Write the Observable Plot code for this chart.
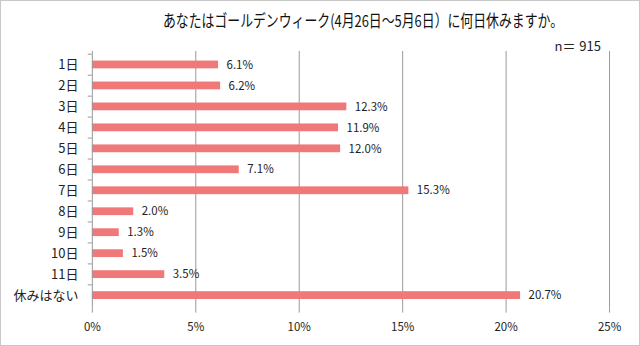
<!DOCTYPE html>
<html>
<head>
<meta charset="utf-8">
<script src="https://cdn.jsdelivr.net/npm/d3@7"></script>
<script src="https://cdn.jsdelivr.net/npm/@observablehq/plot@0.6"></script>
<style>
  html, body { margin: 0; padding: 0; background: #fff; }
  #wrap { position: relative; width: 640px; height: 346px; box-sizing: border-box; border: 1px solid #c8c8c8; overflow: hidden; font-family: "Noto Sans CJK JP", sans-serif; }
  #title { position: absolute; left: 42px; top: 7px; width: 640px; text-align: center; font-size: 16.5px; color: #111; transform: scaleX(0.78); transform-origin: 50% 0; white-space: nowrap; }
  #n { position: absolute; right: 38px; top: 35px; font-size: 13px; color: #222; word-spacing: 1px; }
  #chart { position: absolute; left: -1px; top: 39px; }
</style>
</head>
<body>
<div id="wrap">
  <div id="title">あなたはゴールデンウィーク(4月26日～5月6日）に何日休みますか。</div>
  <div id="n">n＝ 915</div>
  <div id="chart"></div>
</div>
<script>
const categories = ["1日", "2日", "3日", "4日", "5日", "6日", "7日", "8日", "9日", "10日", "11日", "休みはない"];
const values = [6.1, 6.2, 12.3, 11.9, 12.0, 7.1, 15.3, 2.0, 1.3, 1.5, 3.5, 20.7];
const xTicks = [0, 5, 10, 15, 20, 25];

const data = categories.map((c, i) => ({category: c, value: values[i]}));

const H = 307, MT = 11, MB = 38;
const band = (H - MT - MB) / categories.length;

const chart = Plot.plot({
  width: 640,
  height: H,
  marginLeft: 92,
  marginRight: 30,
  marginTop: MT,
  marginBottom: MB,
  style: {fontFamily: "'Noto Sans CJK JP', sans-serif", background: "transparent"},
  x: {domain: [0, 25], label: null},
  y: {domain: categories, label: null, padding: 0},
  marks: [
    Plot.ruleX(xTicks.filter(d => d > 0), {stroke: "#9a9a9a", strokeWidth: 1}),
    Plot.barX(data, {y: "category", x: "value", fill: "#f07878", insetTop: 6.6, insetBottom: 6.6}),
    Plot.text(data, {y: "category", x: "value", text: d => d.value.toFixed(1) + "%", textAnchor: "start", dx: 8, fontSize: 11.5, fill: "#222"}),
    Plot.axisX({ticks: xTicks, tickFormat: d => d + "%", tickSize: 4, tickPadding: 10, fontSize: 11.5, color: "#222", stroke: "#999", label: null}),
    Plot.ruleY([0], {frameAnchor: "bottom", stroke: "#9a9a9a"}),
    Plot.ruleX([0], {stroke: "#9a9a9a"}),
    Plot.ruleY(categories, {y: d => d, x1: -0.2, x2: 0, dy: -band / 2, stroke: "#9a9a9a"}),
    Plot.axisY({tickSize: 0, tickPadding: 14, fontSize: 13, color: "#222", label: null})
  ]
});

document.getElementById("chart").appendChild(chart);
</script>
</body>
</html>
